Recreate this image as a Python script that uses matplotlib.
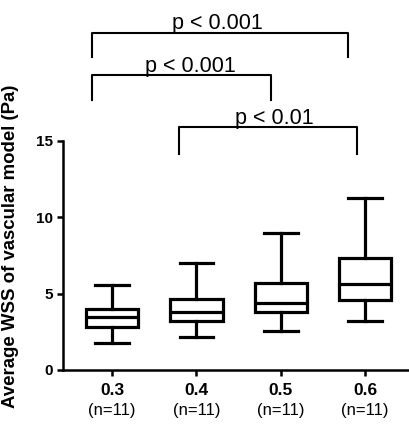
import matplotlib
matplotlib.use('Agg')
import matplotlib.pyplot as plt

plt.rcParams['font.family'] = ['Liberation Sans', 'DejaVu Sans']

# 箱线图数据
groups = ['0.3', '0.4', '0.5', '0.6']
n_labels = ['(n=11)', '(n=11)', '(n=11)', '(n=11)']
whislo = [1.75, 2.18, 2.58, 3.19]
q1 = [2.84, 3.21, 3.78, 4.58]
med = [3.45, 3.82, 4.41, 5.61]
q3 = [4.00, 4.65, 5.67, 7.36]
whishi = [5.57, 7.03, 8.95, 11.29]

# 显著性标注
sig_left = [0.76, 0.76, 1.79]
sig_right = [3.80, 2.88, 3.90]
sig_top = [22.1, 19.3, 15.9]
sig_bottom = [20.5, 17.7, 14.15]
sig_text_x = [2.25, 1.93, 2.92]
sig_text = ['p < 0.001', 'p < 0.001', 'p < 0.01']


def main():
    fig = plt.figure(figsize=(4.09, 4.26), dpi=100)
    ax = fig.add_axes([0.154, 0.1315, 0.846, 0.5376])

    stats = []
    for i in range(len(groups)):
        stats.append({'whislo': whislo[i], 'q1': q1[i], 'med': med[i],
                      'q3': q3[i], 'whishi': whishi[i], 'fliers': []})
    lw = 2.3
    ax.bxp(stats, positions=range(1, len(groups) + 1), widths=0.62,
           showfliers=False, patch_artist=True,
           boxprops=dict(facecolor='white', edgecolor='black', linewidth=lw),
           medianprops=dict(color='black', linewidth=lw),
           whiskerprops=dict(color='black', linewidth=lw),
           capprops=dict(color='black', linewidth=lw),
           capwidths=0.4)

    ax.set_xlim(0.417, 4.52)
    ax.set_ylim(0, 15)
    ax.set_yticks([0, 5, 10, 15])
    ax.set_yticklabels(['0', '5', '10', '15'], fontweight='bold', fontsize=11)
    ax.set_xticks(range(1, len(groups) + 1))
    ax.set_xticklabels([])
    for i in range(len(groups)):
        ax.annotate(groups[i], xy=(i + 1, 0), xycoords=('data', 'axes fraction'),
                    xytext=(0, -14.5), textcoords='offset points',
                    ha='center', va='center', fontsize=12.5, fontweight='bold')
        ax.annotate(n_labels[i], xy=(i + 1, 0), xycoords=('data', 'axes fraction'),
                    xytext=(0, -29), textcoords='offset points',
                    ha='center', va='center', fontsize=12)

    for s in ['top', 'right']:
        ax.spines[s].set_visible(False)
    for s in ['left', 'bottom']:
        ax.spines[s].set_linewidth(1.8)
    ax.tick_params(width=1.8, length=4, direction='out', pad=3)

    ax.set_ylabel('Average WSS of vascular model (Pa)', fontsize=13.4,
                  fontweight='bold')
    ax.yaxis.set_label_coords(-0.128, 0.54)

    # 显著性括号
    for i in range(len(sig_text)):
        ax.plot([sig_left[i], sig_left[i], sig_right[i], sig_right[i]],
                [sig_bottom[i], sig_top[i], sig_top[i], sig_bottom[i]],
                color='black', linewidth=1.5, clip_on=False)
        ax.text(sig_text_x[i], sig_top[i] + 0.22, sig_text[i],
                ha='center', va='baseline', fontsize=15.5)

    fig.savefig('out.png', dpi=100)


if __name__ == "__main__":
    main()
